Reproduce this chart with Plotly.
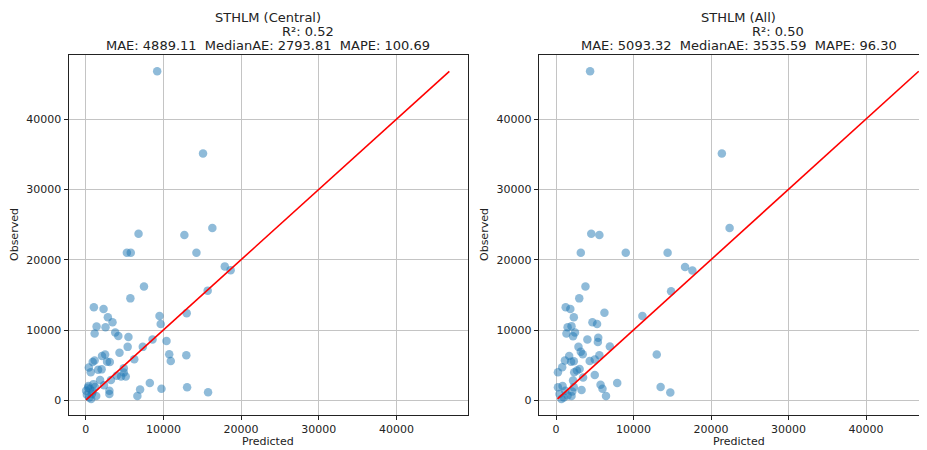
import plotly.graph_objects as go

# ---------------- data ----------------
central_pred = [9200, 15100, 6800, 12700, 16300, 5300, 5800, 14250, 17900, 18650,
                7500, 15700, 5750, 1050, 2300, 9500, 13000, 2850, 3450, 9650,
                1400, 2550, 1150, 3800, 4200, 5500, 8600, 10400, 7350, 5400,
                4350, 10750, 12950, 2500, 2100, 10950, 6250, 2750, 3100, 1150,
                900, 400, 1600, 2050, 4900, 650, 4900, 4000, 5150, 4550,
                1850, 3250, 350, 1000, 2350, 8250, 7000, 9750, 13050, 15750,
                3050, 3050, 6650, 50, 550, 900, 150, 450, 1350, 800,
                300, 1200, 700]
central_obs = [46800, 35100, 23700, 23500, 24500, 21000, 21000, 21000, 19050, 18500,
               16200, 15600, 14500, 13250, 13000, 12000, 12400, 11800, 11100, 10850,
               10500, 10400, 9500, 9650, 9150, 9000, 8650, 8450, 7600, 7600,
               6750, 6550, 6400, 6500, 6300, 5600, 5850, 5500, 5450, 5650,
               5450, 4650, 4350, 4400, 4550, 4000, 3950, 3500, 3400, 3400,
               2900, 2900, 2050, 2300, 2150, 2450, 1550, 1650, 1850, 1150,
               1350, 900, 600, 1350, 1600, 1250, 800, 400, 600, 900,
               1800, 1900, 200]

all_pred = [4400, 21400, 22400, 4550, 5600, 3200, 9000, 14400, 16650, 17600,
            3800, 14850, 3000, 1250, 1850, 6250, 2300, 11150, 4700, 5300,
            2000, 1500, 2450, 1350, 2200, 4050, 5450, 5400, 2900, 6950,
            3200, 3450, 5600, 1700, 13000, 5000, 4350, 1150, 1950, 2300,
            800, 2700, 3050, 2350, 250, 5000, 3500, 2200, 7900, 5750,
            6000, 6450, 13500, 14750, 3300, 250, 850, 1200, 2100, 2000,
            1000, 450, 2300, 1500, 700]
all_obs = [46800, 35100, 24500, 23700, 23500, 21000, 21000, 21000, 18950, 18450,
           16200, 15500, 14500, 13250, 13000, 12450, 11800, 12000, 11100, 10850,
           10550, 10400, 9650, 9500, 9100, 8650, 8900, 8300, 7600, 7650,
           6900, 6550, 6400, 6300, 6500, 5800, 5600, 5650, 5500, 5550,
           4700, 4250, 4450, 4000, 4000, 3600, 3250, 2800, 2450, 2200,
           1650, 600, 1900, 1100, 1450, 1850, 2050, 1350, 1250, 600,
           400, 900, 1850, 700, 200]

panel_titles = ["STHLM (Central)", "STHLM (All)"]
r2_texts = ["R²: 0.52", "R²: 0.50"]
metric_texts = ["MAE: 4889.11\u00a0 MedianAE: 2793.81\u00a0 MAPE: 100.69",
                "MAE: 5093.32\u00a0 MedianAE: 3535.59\u00a0 MAPE: 96.30"]
tick_vals = [0, 10000, 20000, 30000, 40000]
tick_text = ["0", "10000", "20000", "30000", "40000"]

# ---------------- figure ----------------
OFF = 8                      # page body margin of the browser
W, H = 927 - OFF, 450 - OFF
FONT = "DejaVu Sans"
BLUE = "rgba(31,119,180,0.5)"

def px(x):
    return (x - OFF) / W

def py(y):
    return 1 - (y - OFF) / H

fig = go.Figure()

for i, (pr, ob) in enumerate([(central_pred, central_obs), (all_pred, all_obs)]):
    xa = "x" if i == 0 else "x2"
    ya = "y" if i == 0 else "y2"
    fig.add_trace(go.Scatter(x=pr, y=ob, mode="markers", xaxis=xa, yaxis=ya,
                             marker=dict(color=BLUE, size=8.5, line=dict(width=0)),
                             showlegend=False, hoverinfo="x+y"))
    lo = min(min(pr), min(ob))
    hi = max(max(pr), max(ob))
    fig.add_trace(go.Scatter(x=[lo, hi], y=[lo, hi], mode="lines", xaxis=xa, yaxis=ya,
                             line=dict(color="red", width=1.6), showlegend=False,
                             hoverinfo="skip"))

axis_common = dict(
    showline=True, mirror=True, linecolor="#222", linewidth=1,
    showgrid=True, gridcolor="#c4c4c4", gridwidth=1, zeroline=False,
    ticks="outside", ticklen=4, tickwidth=1, tickcolor="#222",
    tickvals=tick_vals, ticktext=tick_text,
    tickfont=dict(family=FONT, size=11, color="#222"),
)

ydom = [py(415), py(55)]
fig.update_layout(
    width=W, height=H,
    margin=dict(l=0, r=0, t=0, b=0),
    paper_bgcolor="white", plot_bgcolor="white",
    font=dict(family=FONT, color="#222"),
    xaxis=dict(domain=[px(68.5), px(468.3)], range=[-2214, 49240], anchor="y", **axis_common),
    yaxis=dict(domain=ydom, range=[-2091, 49118], anchor="x", **axis_common),
    xaxis2=dict(domain=[px(538.7), 1.0], range=[-2232, 47870], anchor="y2", **axis_common),
    yaxis2=dict(domain=ydom, range=[-2091, 49118], anchor="x2", **axis_common),
)

centers = [268.4, 738.6]
r2_centers = [308, 778]
ylabel_x = [15, 485]
ann = []
for i in range(2):
    ann.append(dict(x=px(centers[i]), y=py(17), text=panel_titles[i]))
    ann.append(dict(x=px(r2_centers[i]), y=py(31), text=r2_texts[i]))
    ann.append(dict(x=px(centers[i]), y=py(45), text=metric_texts[i]))
for a in ann:
    a.update(xref="paper", yref="paper", showarrow=False, xanchor="center",
             yanchor="middle", font=dict(family=FONT, size=13, color="#222"))
for i in range(2):
    ann.append(dict(x=px(centers[i]), y=py(441), text="Predicted", xref="paper",
                    yref="paper", showarrow=False, xanchor="center", yanchor="middle",
                    font=dict(family=FONT, size=11, color="#222")))
    ann.append(dict(x=px(ylabel_x[i]), y=py(235), text="Observed", textangle=-90,
                    xref="paper", yref="paper", showarrow=False, xanchor="center",
                    yanchor="middle", font=dict(family=FONT, size=11, color="#222")))
fig.update_layout(annotations=ann)

fig.write_html("out.html")
